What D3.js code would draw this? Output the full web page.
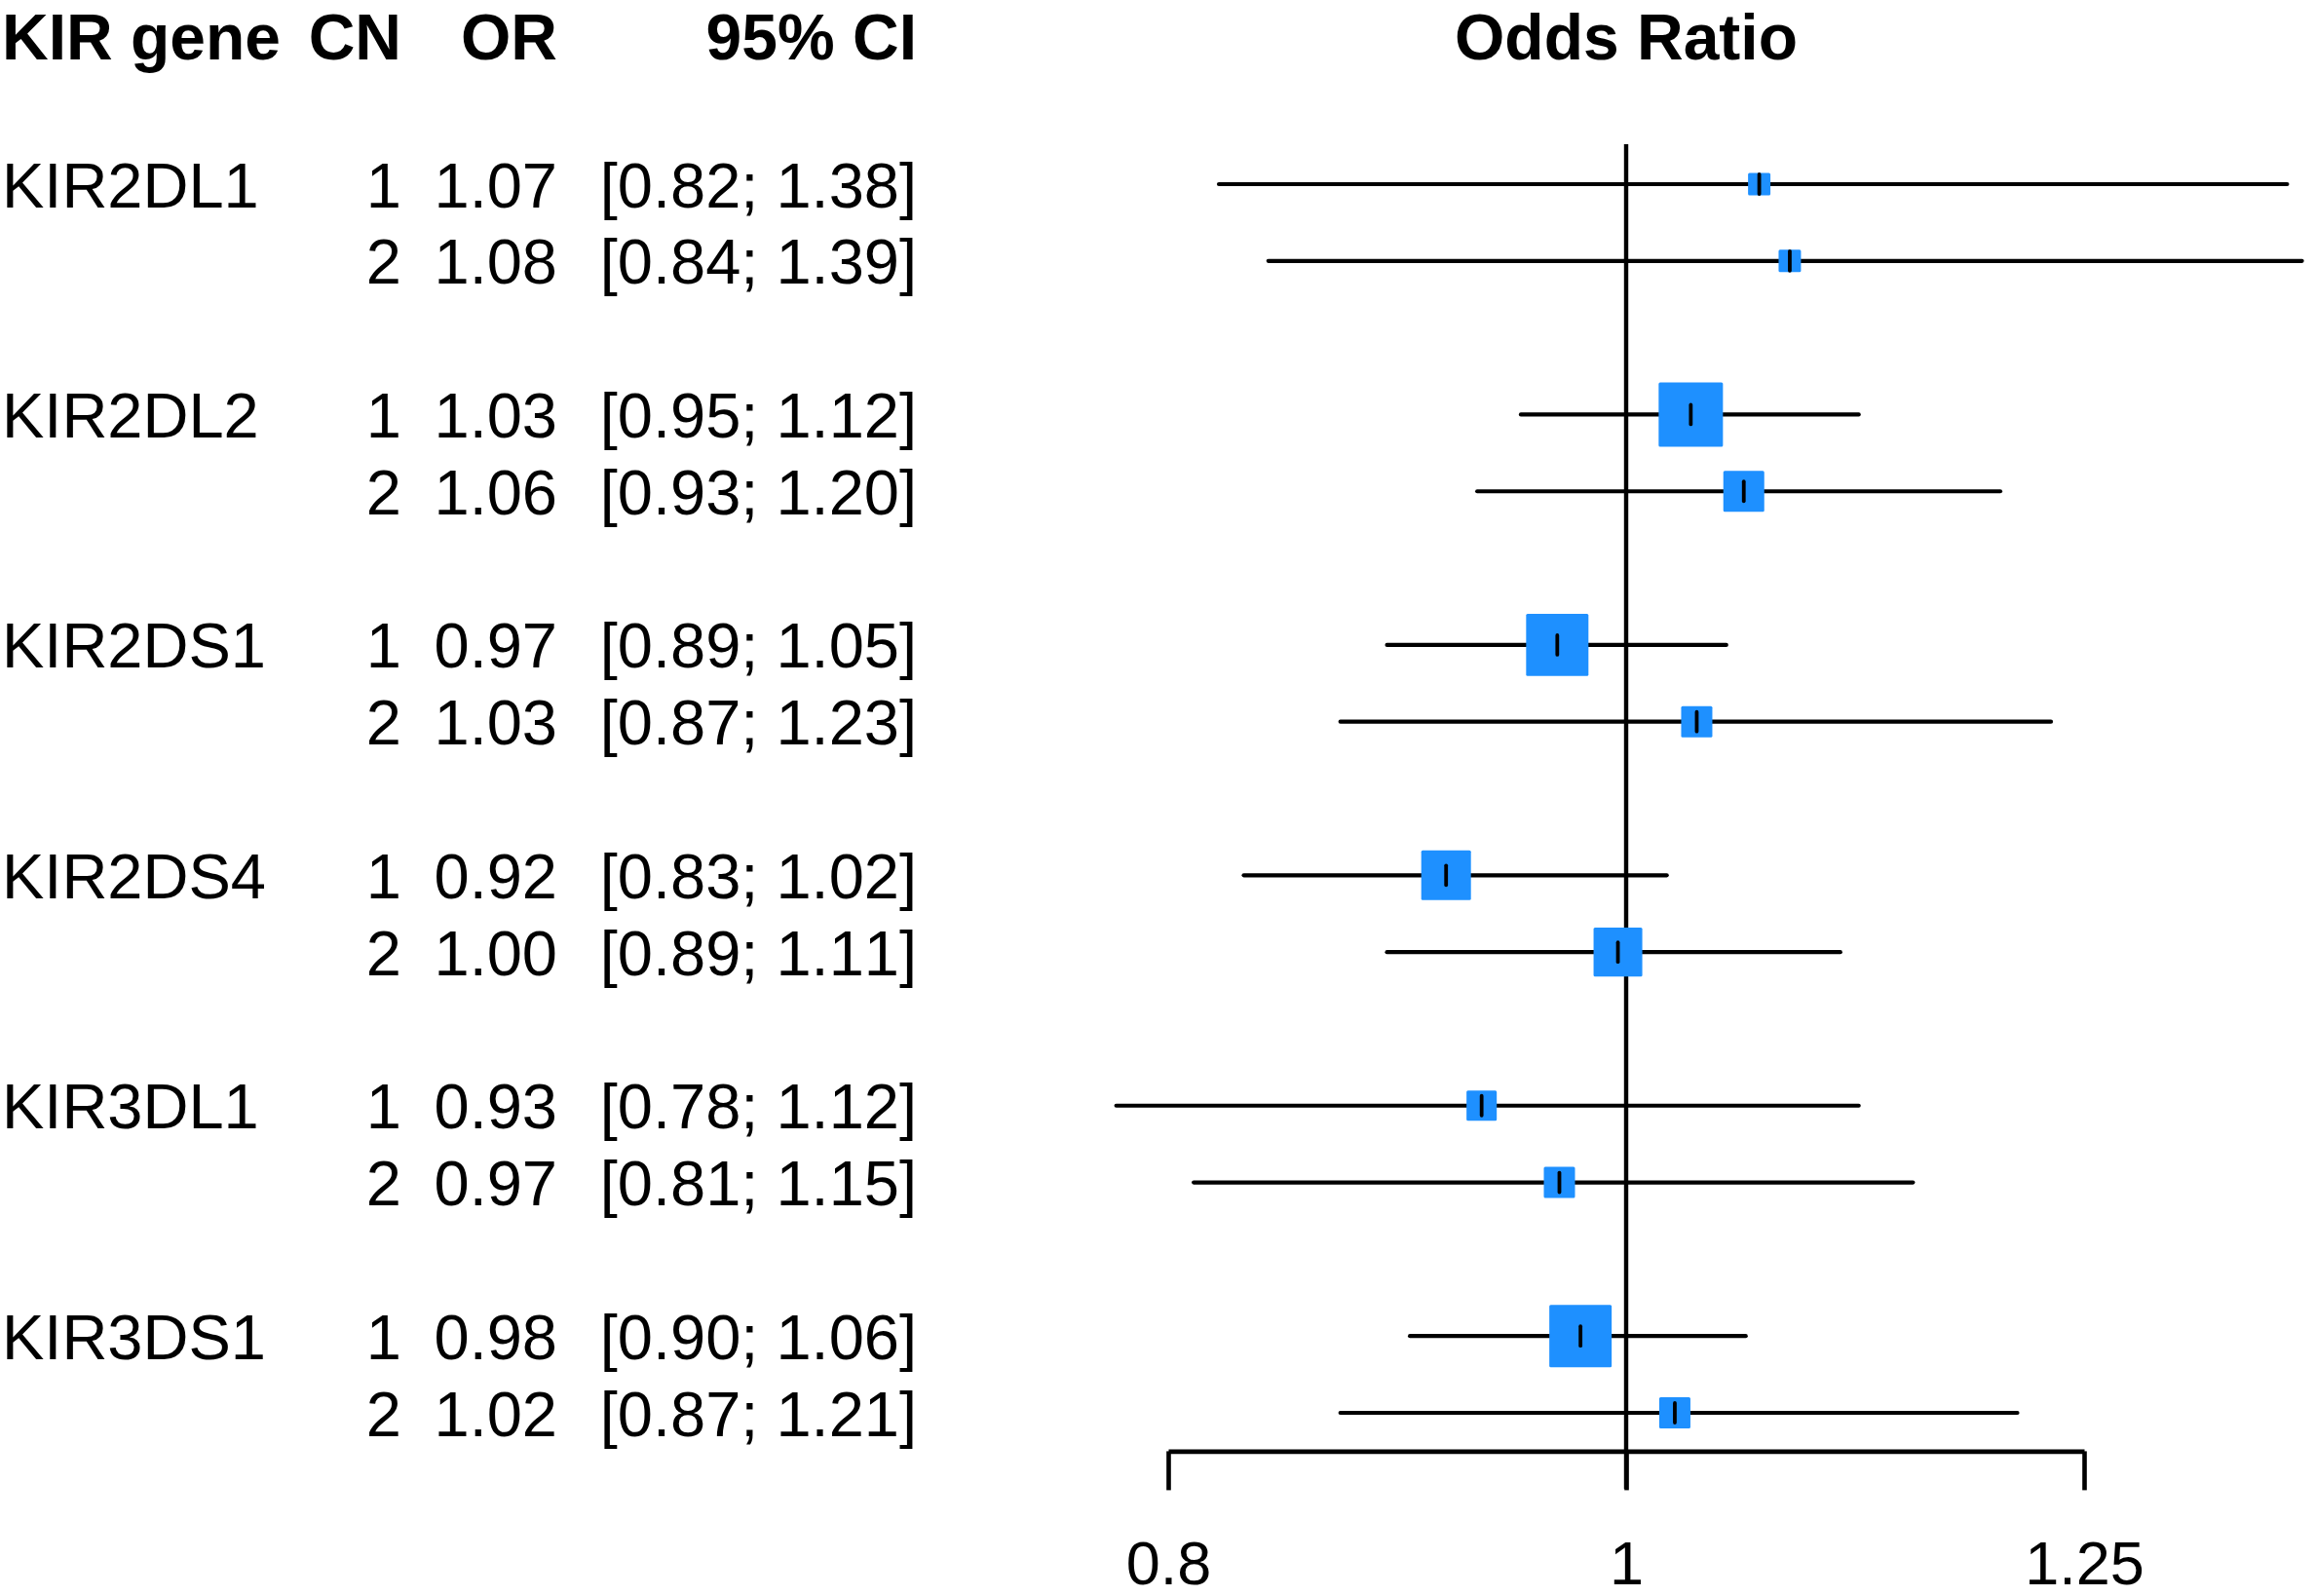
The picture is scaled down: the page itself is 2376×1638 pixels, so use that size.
<!DOCTYPE html>
<html>
<head>
<meta charset="utf-8">
<title>KIR forest plot</title>
<script src="https://cdn.jsdelivr.net/npm/d3@7"></script>
<style>
  body { margin: 0; background: #fff; }
  svg text { font-family: "Liberation Sans", Arial, Helvetica, sans-serif; fill: #000; font-kerning: none; }
</style>
</head>
<body>
<div id="chart"></div>
<script>
'use strict';

// data
var genes   = ['KIR2DL1', 'KIR2DL2', 'KIR2DS1', 'KIR2DS4', 'KIR3DL1', 'KIR3DS1'];
var copyNum = [1, 2];
var oddsRatio = [1.067, 1.083, 1.032, 1.059, 0.967, 1.035, 0.916, 0.996, 0.932, 0.968, 0.978, 1.024];
var ciLower   = [0.82, 0.84, 0.95, 0.93, 0.89, 0.87, 0.83, 0.89, 0.78, 0.81, 0.90, 0.87];
var ciUpper   = [1.38, 1.39, 1.12, 1.20, 1.05, 1.23, 1.02, 1.11, 1.12, 1.15, 1.06, 1.21];
var weights   = [12.1, 12.1, 100, 40.5, 94, 23.5, 59.7, 57.4, 22.1, 23.5, 94, 23.5];
var tickValues = [0.8, 1, 1.25];
var tickLabels = ['0.8', '1', '1.25'];
var headers = {gene: 'KIR gene', cn: 'CN', or: 'OR', ci: '95% CI', plot: 'Odds Ratio'};

var width = 2376, height = 1638;

var svg = d3.select('#chart')
  .append('svg')
    .attr('width', width)
    .attr('height', height);

var fmt = d3.format('.2f');

// one entry per study line, with a blank line between genes
var rows = [];
genes.forEach(function(g, gi){
  copyNum.forEach(function(cn, ci){
    var k = gi * 2 + ci;
    rows.push({
      gene: ci === 0 ? g : '',
      cn: cn,
      or: oddsRatio[k],
      lo: ciLower[k],
      hi: ciUpper[k],
      w: weights[k],
      line: gi * 3 + ci
    });
  });
});

var y = d3.scaleLinear().domain([0, 16]).range([189, 1450]);
var x = d3.scaleLog().domain([0.8, 1.25]).range([1199, 2139]);
var boxSize = d3.scaleSqrt().domain([0, 100]).range([0, 66]);

var bodyFont = 65, headFont = 66, tickFont = 63;
var baseShift = 23.5;
var headBase = 61;

// header
var head = svg.append('g')
    .style('font-weight', 'bold')
    .style('font-size', headFont + 'px');
head.append('text').attr('x', 2).attr('y', headBase).text(headers.gene);
head.append('text').attr('x', 412).attr('y', headBase).attr('text-anchor', 'end').text(headers.cn);
head.append('text').attr('x', 572).attr('y', headBase).attr('text-anchor', 'end').text(headers.or);
head.append('text').attr('x', 941).attr('y', headBase).attr('text-anchor', 'end').text(headers.ci);
head.append('text').attr('x', x(1)).attr('y', headBase).attr('text-anchor', 'middle').text(headers.plot);

// left-hand table
var table = svg.append('g').style('font-size', bodyFont + 'px');
var trow = table.selectAll('g.trow')
    .data(rows)
  .enter().append('g')
    .attr('class', 'trow')
    .attr('transform', function(d){ return 'translate(0,' + (y(d.line) + baseShift) + ')'; });

trow.append('text').attr('x', 2).text(function(d){ return d.gene; });
trow.append('text').attr('x', 412).attr('text-anchor', 'end').text(function(d){ return d.cn; });
trow.append('text').attr('x', 572).attr('text-anchor', 'end').text(function(d){ return fmt(d.or); });
trow.append('text').attr('x', 941).attr('text-anchor', 'end')
    .text(function(d){ return '[' + fmt(d.lo) + '; ' + fmt(d.hi) + ']'; });

// reference line at OR = 1
svg.append('line')
    .attr('x1', x(1)).attr('x2', x(1))
    .attr('y1', y(-0.52)).attr('y2', 1528)
    .attr('stroke', '#000')
    .attr('stroke-width', 4.4);

// CI lines, boxes, point ticks
var plot = svg.append('g');
var prow = plot.selectAll('g.prow')
    .data(rows)
  .enter().append('g')
    .attr('class', 'prow');

prow.append('line')
    .attr('x1', function(d){ return x(d.lo); })
    .attr('x2', function(d){ return x(d.hi); })
    .attr('y1', function(d){ return y(d.line); })
    .attr('y2', function(d){ return y(d.line); })
    .attr('stroke', '#000')
    .attr('stroke-width', 4.2)
    .attr('stroke-linecap', 'round');

prow.append('rect')
    .attr('x', function(d){ return x(d.or) - boxSize(d.w) / 2; })
    .attr('y', function(d){ return y(d.line) - boxSize(d.w) / 2; })
    .attr('width', function(d){ return boxSize(d.w); })
    .attr('height', function(d){ return boxSize(d.w); })
    .attr('rx', 1.5)
    .attr('fill', '#1E90FF');

prow.append('line')
    .attr('x1', function(d){ return x(d.or); })
    .attr('x2', function(d){ return x(d.or); })
    .attr('y1', function(d){ return y(d.line) - 10; })
    .attr('y2', function(d){ return y(d.line) + 10; })
    .attr('stroke', '#000')
    .attr('stroke-width', 3.8)
    .attr('stroke-linecap', 'round');

// x axis
var axis = d3.axisBottom(x)
    .tickValues(tickValues)
    .tickFormat(function(d, i){ return tickLabels[i]; })
    .tickSize(40)
    .tickSizeOuter(0)
    .tickPadding(52);

var ax = svg.append('g')
    .attr('transform', 'translate(0,' + y(16.5) + ')')
    .call(axis);

ax.select('.domain')
    .attr('stroke', '#000')
    .attr('stroke-width', 4.6);
ax.selectAll('.tick line')
    .attr('stroke', '#000')
    .attr('stroke-width', 4.6);
ax.selectAll('.tick text')
    .attr('font-size', tickFont)
    .attr('fill', '#000')
    .style('font-family', '"Liberation Sans", Arial, Helvetica, sans-serif');
</script>
</body>
</html>
